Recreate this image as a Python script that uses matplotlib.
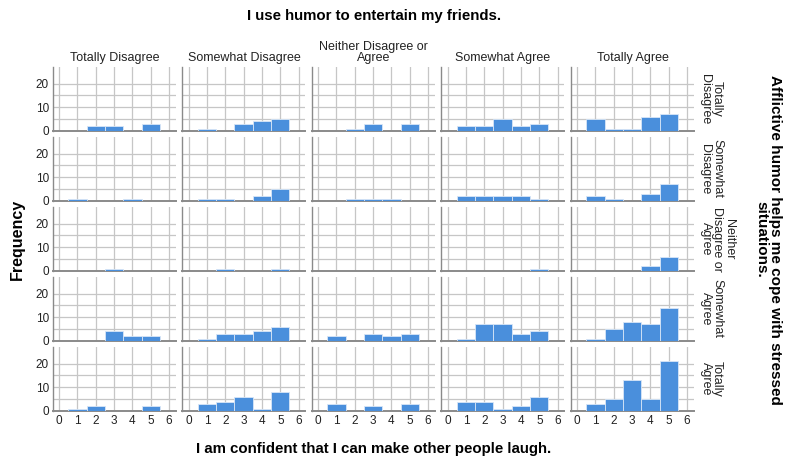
import matplotlib
matplotlib.use("Agg")
import matplotlib.pyplot as plt
import numpy as np

plt.rcParams['font.family'] = ['Liberation Sans', 'DejaVu Sans']

levels = ["Totally Disagree", "Somewhat Disagree", "Neither Disagree or\nAgree",
          "Somewhat Agree", "Totally Agree"]
row_labels = ["Totally\nDisagree", "Somewhat\nDisagree", "Neither\nDisagree or\nAgree",
              "Somewhat\nAgree", "Totally\nAgree"]
x_values = [1, 2, 3, 4, 5]
x_ticks = [0, 1, 2, 3, 4, 5, 6]
y_ticks = [0, 10, 20]

# counts[row][col] for x = 1..5
row_totally_disagree = [[0, 2, 2, 0, 3], [1, 0, 3, 4, 5], [0, 1, 3, 0, 3], [2, 2, 5, 2, 3], [5, 1, 1, 6, 7]]
row_somewhat_disagree = [[1, 0, 0, 1, 0], [1, 1, 0, 2, 5], [0, 1, 1, 1, 0], [2, 2, 2, 2, 1], [2, 1, 0, 3, 7]]
row_neither = [[0, 0, 1, 0, 0], [0, 1, 0, 0, 1], [0, 0, 0, 0, 0], [0, 0, 0, 0, 1], [0, 0, 0, 2, 6]]
row_somewhat_agree = [[0, 0, 4, 2, 2], [1, 3, 3, 4, 6], [2, 0, 3, 2, 3], [1, 7, 7, 3, 4], [1, 5, 8, 7, 14]]
row_totally_agree = [[1, 2, 0, 0, 2], [3, 4, 6, 1, 8], [3, 0, 2, 0, 3], [4, 4, 1, 2, 6], [3, 5, 13, 5, 21]]
counts = [row_totally_disagree, row_somewhat_disagree, row_neither, row_somewhat_agree, row_totally_agree]

bar_color = '#4a8fdc'
grid_color = '#c6c6c6'
spine_color = '#8a8a8a'
text_color = '#222222'

fig, axes = plt.subplots(5, 5, figsize=(7.85, 4.61), dpi=100, sharex=True, sharey=True)
fig.subplots_adjust(left=0.0675, right=0.884, top=0.8547, bottom=0.1085, wspace=0.053, hspace=0.094)

for r in range(5):
    for c in range(5):
        ax = axes[r, c]
        ax.bar(x_values, counts[r][c], width=1.0, color=bar_color, edgecolor='#d8e6f7', linewidth=0.6, zorder=3)
        ax.set_xlim(-0.33, 6.37)
        ax.set_ylim(0, 27)
        ax.set_xticks(x_ticks)
        ax.set_yticks(y_ticks)
        for g in [5, 10, 15, 20]:
            ax.axhline(g, color=grid_color, linewidth=0.9, zorder=1)
        for g in x_ticks:
            ax.axvline(g, color=grid_color, linewidth=0.9, zorder=1)
        for s in ['top', 'right']:
            ax.spines[s].set_visible(False)
        ax.spines['left'].set_color(spine_color)
        ax.spines['bottom'].set_color(spine_color)
        ax.spines['left'].set_linewidth(1.0)
        ax.spines['bottom'].set_linewidth(1.4)
        ax.tick_params(axis='both', length=0, labelsize=8.5, colors=text_color, pad=3)
        ax.set_facecolor('white')
        if r == 0:
            ax.set_title(levels[c], fontsize=9, color=text_color, pad=4, linespacing=0.95)
        if c == 4:
            ax.text(1.045, 0.5, row_labels[r], transform=ax.transAxes, rotation=-90,
                    ha='left', va='center', fontsize=9, color=text_color,
                    multialignment='center', linespacing=0.95)

fig.text(0.476, 0.965, "I use humor to entertain my friends.", ha='center', va='center',
         fontsize=10.8, fontweight='bold')
fig.text(0.476, 0.026, "I am confident that I can make other people laugh.", ha='center', va='center',
         fontsize=10.8, fontweight='bold')
fig.text(0.022, 0.48, "Frequency", ha='center', va='center', rotation=90,
         fontsize=11.5, fontweight='bold')
fig.text(0.979, 0.48, "Afflictive humor helps me cope with stressed\nsituations.", ha='center',
         va='center', rotation=-90, fontsize=11, fontweight='bold', multialignment='center',
         linespacing=0.95)

fig.savefig("out.png", dpi=100, facecolor='white')
